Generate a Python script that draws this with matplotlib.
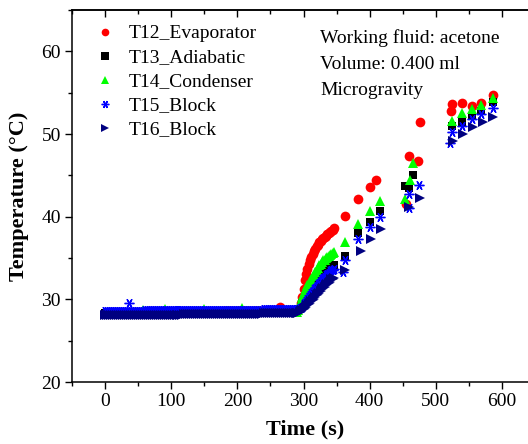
import matplotlib
matplotlib.use("Agg")
import matplotlib.pyplot as plt
from matplotlib.ticker import MultipleLocator

plt.rcParams['font.family'] = ['Liberation Serif', 'DejaVu Serif']

# ---------------- data ----------------
# flat period, sampled every 3 s (0 ... 288 s)
t_flat = [0, 3, 6, 9, 12, 15, 18, 21, 24, 27, 30, 33,
          36, 39, 42, 45, 48, 51, 54, 57, 60, 63, 66, 69,
          72, 75, 78, 81, 84, 87, 90, 93, 96, 99, 102, 105,
          108, 111, 114, 117, 120, 123, 126, 129, 132, 135, 138, 141,
          144, 147, 150, 153, 156, 159, 162, 165, 168, 171, 174, 177,
          180, 183, 186, 189, 192, 195, 198, 201, 204, 207, 210, 213,
          216, 219, 222, 225, 228, 231, 234, 237, 240, 243, 246, 249,
          252, 255, 258, 261, 264, 267, 270, 273, 276, 279, 282, 285,
          288]
# heating onset, sampled every 2 s (290 ... 346 s)
t_rise = [290, 292, 294, 296, 298, 300, 302, 304, 306, 308, 310, 312, 314, 316, 318,
          320, 322, 324, 326, 328, 330, 332, 334, 336, 338, 340, 342, 344, 346]

t12_flat = [28.40, 28.40, 28.35, 28.40, 28.40, 28.40, 28.35, 28.40, 28.40, 28.40,
            28.40, 28.35, 28.40, 28.40, 28.40, 28.40, 28.35, 28.40, 28.40, 28.40,
            28.45, 28.45, 28.45, 28.40, 28.45, 28.45, 28.45, 28.45, 28.45, 28.40,
            28.45, 28.45, 28.45, 28.45, 28.45, 28.45, 28.40, 28.45, 28.45, 28.45,
            28.50, 28.50, 28.50, 28.50, 28.45, 28.50, 28.50, 28.50, 28.50, 28.50,
            28.50, 28.50, 28.45, 28.50, 28.50, 28.50, 28.50, 28.50, 28.50, 28.50,
            28.55, 28.55, 28.55, 28.55, 28.55, 28.50, 28.55, 28.55, 28.55, 28.55,
            28.55, 28.55, 28.55, 28.55, 28.50, 28.55, 28.55, 28.55, 28.55, 28.55,
            28.60, 28.60, 28.60, 28.60, 28.60, 28.60, 28.60, 28.70, 29.10, 28.70,
            28.60, 28.60, 28.60, 28.60, 28.60, 28.60, 28.60]
t12_rise = [28.7, 28.8, 29.0, 29.5, 30.3, 31.3, 32.3, 33.1, 33.7, 34.3, 34.8, 35.1,
            35.5, 35.8, 36.1, 36.4, 36.6, 36.9, 37.1, 37.3, 37.4, 37.6, 37.7, 37.9,
            38.0, 38.2, 38.3, 38.4, 38.6]

t13_flat = [28.30, 28.30, 28.30, 28.30, 28.30, 28.30, 28.30, 28.30, 28.30, 28.30,
            28.30, 28.30, 28.30, 28.30, 28.30, 28.30, 28.30, 28.30, 28.30, 28.30,
            28.35, 28.35, 28.35, 28.35, 28.35, 28.35, 28.35, 28.35, 28.35, 28.35,
            28.35, 28.35, 28.35, 28.35, 28.35, 28.35, 28.35, 28.35, 28.35, 28.35,
            28.40, 28.40, 28.40, 28.40, 28.40, 28.40, 28.40, 28.40, 28.40, 28.40,
            28.40, 28.40, 28.40, 28.40, 28.40, 28.40, 28.40, 28.40, 28.40, 28.40,
            28.45, 28.45, 28.45, 28.45, 28.45, 28.45, 28.45, 28.45, 28.45, 28.45,
            28.45, 28.45, 28.45, 28.45, 28.45, 28.45, 28.45, 28.45, 28.45, 28.45,
            28.50, 28.50, 28.50, 28.50, 28.50, 28.50, 28.50, 28.50, 28.50, 28.50,
            28.50, 28.50, 28.50, 28.50, 28.50, 28.50, 28.50]
t13_rise = [28.5, 28.6, 28.8, 29.1, 29.5, 29.8, 30.1, 30.4, 30.7, 31.0, 31.2, 31.5,
            31.8, 32.0, 32.2, 32.4, 32.6, 32.8, 33.0, 33.2, 33.3, 33.4, 33.6, 33.7,
            33.8, 33.9, 34.0, 34.1, 34.2]

t14_flat = [28.25, 28.35, 28.35, 28.40, 28.35, 28.35, 28.35, 28.40, 28.35, 28.35,
            28.40, 28.35, 28.35, 28.40, 28.35, 28.35, 28.35, 28.40, 28.35, 28.75,
            28.40, 28.40, 28.40, 28.45, 28.40, 28.40, 28.40, 28.45, 28.40, 28.40,
            28.80, 28.40, 28.40, 28.40, 28.45, 28.40, 28.40, 28.45, 28.40, 28.40,
            28.45, 28.45, 28.50, 28.45, 28.45, 28.50, 28.45, 28.45, 28.50, 28.45,
            28.85, 28.45, 28.45, 28.50, 28.45, 28.45, 28.45, 28.50, 28.45, 28.45,
            28.50, 28.50, 28.55, 28.50, 28.50, 28.55, 28.50, 28.50, 28.55, 28.90,
            28.50, 28.50, 28.55, 28.50, 28.50, 28.55, 28.50, 28.50, 28.55, 28.50,
            28.55, 28.55, 28.60, 28.55, 28.55, 28.60, 28.55, 28.55, 28.60, 28.55,
            28.55, 28.55, 28.60, 28.55, 28.45, 28.45, 28.45]
t14_rise = [28.5, 28.7, 29.2, 29.8, 30.3, 30.7, 31.0, 31.4, 31.7, 32.0, 32.2, 32.5,
            32.8, 33.0, 33.3, 33.6, 33.8, 34.1, 34.3, 34.5, 34.7, 34.8, 35.0, 35.1,
            35.2, 35.4, 35.5, 35.6, 35.7]

t15_flat = [28.60, 28.60, 28.60, 28.60, 28.60, 28.60, 28.60, 28.60, 28.60, 28.60,
            28.60, 28.60, 29.50, 28.60, 28.60, 28.60, 28.60, 28.60, 28.60, 28.60,
            28.65, 28.65, 28.65, 28.65, 28.65, 28.65, 28.65, 28.65, 28.65, 28.65,
            28.65, 28.65, 28.65, 28.65, 28.65, 28.65, 28.65, 28.65, 28.65, 28.65,
            28.70, 28.70, 28.70, 28.70, 28.70, 28.70, 28.70, 28.70, 28.70, 28.70,
            28.70, 28.70, 28.70, 28.70, 28.70, 28.70, 28.70, 28.70, 28.70, 28.70,
            28.75, 28.75, 28.75, 28.75, 28.75, 28.75, 28.75, 28.75, 28.75, 28.75,
            28.75, 28.75, 28.75, 28.75, 28.75, 28.75, 28.75, 28.75, 28.75, 28.75,
            28.80, 28.80, 28.80, 28.80, 28.80, 28.80, 28.80, 28.80, 28.80, 28.80,
            28.80, 28.80, 28.80, 28.80, 28.80, 28.80, 28.80]
t15_rise = [28.8, 28.8, 28.9, 29.0, 29.1, 29.4, 29.6, 29.8, 30.1, 30.3, 30.5, 30.8,
            31.0, 31.2, 31.4, 31.6, 31.8, 32.0, 32.2, 32.4, 32.6, 32.7, 32.9, 33.1,
            33.2, 33.4, 33.5, 33.6, 33.7]

t16_flat = [28.10, 28.10, 28.10, 28.10, 28.10, 28.10, 28.10, 28.10, 28.10, 28.10,
            28.10, 28.10, 28.10, 28.10, 28.10, 28.10, 28.10, 28.10, 28.10, 28.10,
            28.15, 28.15, 28.15, 28.15, 28.15, 28.15, 28.15, 28.15, 28.15, 28.15,
            28.15, 28.15, 28.15, 28.15, 28.15, 28.15, 28.15, 28.15, 28.15, 28.15,
            28.20, 28.20, 28.20, 28.20, 28.20, 28.20, 28.20, 28.20, 28.20, 28.20,
            28.20, 28.20, 28.20, 28.20, 28.20, 28.20, 28.20, 28.20, 28.20, 28.20,
            28.25, 28.25, 28.25, 28.25, 28.25, 28.25, 28.25, 28.25, 28.25, 28.25,
            28.25, 28.25, 28.25, 28.25, 28.25, 28.25, 28.25, 28.25, 28.25, 28.25,
            28.30, 28.30, 28.30, 28.30, 28.30, 28.30, 28.30, 28.30, 28.30, 28.30,
            28.30, 28.30, 28.30, 28.30, 28.30, 28.30, 28.30]
t16_rise = [28.3, 28.4, 28.5, 28.6, 28.7, 28.8, 28.9, 29.1, 29.3, 29.4, 29.6, 29.8,
            29.9, 30.1, 30.3, 30.5, 30.6, 30.8, 31.0, 31.2, 31.4, 31.5, 31.7, 31.9,
            32.0, 32.1, 32.4, 32.5, 32.6]

# sparse sampling after ~346 s (separate acquisition windows)
t12_t = [362, 383, 400, 410, 455, 460, 473, 476, 523, 524, 539, 554, 569, 586]
t12_v = [40.1, 42.1, 43.6, 44.4, 41.5, 47.3, 46.7, 51.5, 52.8, 53.6, 53.8, 53.4, 53.8, 54.7]

t13_t = [362, 383, 400, 415, 453, 460, 466, 524, 539, 554, 569, 586]
t13_v = [35.3, 38.0, 39.4, 40.7, 43.7, 43.5, 45.1, 51.0, 51.4, 52.2, 52.8, 53.9]

t14_t = [362, 383, 400, 415, 453, 461, 466, 524, 539, 554, 569, 586]
t14_v = [36.9, 39.1, 40.7, 41.9, 42.1, 44.4, 46.5, 51.6, 52.6, 53.0, 53.5, 54.4]

t15_t = [360, 362, 383, 400, 415, 460, 460, 475, 521, 524, 539, 554, 569, 586]
t15_v = [33.3, 34.7, 37.3, 38.7, 40.0, 42.7, 41.1, 43.8, 48.9, 50.2, 51.0, 51.8, 52.4, 53.2]

t16_t = [363, 387, 402, 417, 460, 476, 526, 541, 556, 571, 587]
t16_v = [33.5, 35.8, 37.3, 38.5, 41.2, 42.3, 49.2, 50.0, 50.8, 51.4, 52.0]

labels = ["T12_Evaporator", "T13_Adiabatic", "T14_Condenser", "T15_Block", "T16_Block"]
colors = ["#FF0000", "#000000", "#00FF00", "#0000FF", "#000080"]
markers = ["o", "s", "^", (6, 2, 90), ">"]
msizes = [7.0, 6.0, 7.8, 7.0, 7.2]

series = [
    (t12_flat, t12_rise, t12_t, t12_v),
    (t13_flat, t13_rise, t13_t, t13_v),
    (t14_flat, t14_rise, t14_t, t14_v),
    (t15_flat, t15_rise, t15_t, t15_v),
    (t16_flat, t16_rise, t16_t, t16_v),
]

# ---------------- figure ----------------
fig = plt.figure(figsize=(5.28, 4.44), dpi=100)
ax = fig.add_axes([72 / 528, 1 - 382 / 444, 463 / 528, 372 / 444])

for (vf, vr, ts, vs), c, m, ms in zip(series, colors, markers, msizes):
    xs = t_flat + t_rise + ts
    ys = vf + vr + vs
    mew = 1.0 if isinstance(m, tuple) else 0.0
    ax.plot(xs, ys, linestyle="none", marker=m, color=c, markersize=ms,
            markeredgewidth=mew, markeredgecolor=c)

ax.set_xlim(-50, 650)
ax.set_ylim(20, 65)
ax.xaxis.set_major_locator(MultipleLocator(100))
ax.xaxis.set_minor_locator(MultipleLocator(50))
ax.yaxis.set_major_locator(MultipleLocator(10))
ax.yaxis.set_minor_locator(MultipleLocator(5))

ax.tick_params(which="both", direction="out", top=False, right=False,
               labelsize=14, width=1.0)
ax.tick_params(which="major", length=5, pad=3)
ax.tick_params(which="minor", length=3)
# inward ticks on top and right
axt = ax.secondary_xaxis("top")
axt.xaxis.set_major_locator(MultipleLocator(100))
axt.xaxis.set_minor_locator(MultipleLocator(50))
axt.tick_params(which="both", direction="in", labeltop=False, width=1.0)
axt.tick_params(which="major", length=5)
axt.tick_params(which="minor", length=3)
axr = ax.secondary_yaxis("right")
axr.yaxis.set_major_locator(MultipleLocator(10))
axr.yaxis.set_minor_locator(MultipleLocator(5))
axr.tick_params(which="both", direction="in", labelright=False, width=1.0)
axr.tick_params(which="major", length=5)
axr.tick_params(which="minor", length=3)
for a in (ax, axt, axr):
    for s in a.spines.values():
        s.set_linewidth(1.1)

ax.set_xlabel("Time (s)", fontsize=16, fontweight="bold")
ax.set_ylabel("Temperature (°C)", fontsize=16, fontweight="bold")
ax.xaxis.set_label_coords((305 - 72) / 463, -0.1)
ax.yaxis.set_label_coords(-0.093, 0.5)

# legend (manual placement to match the reference)
for i, (lab, c, m) in enumerate(zip(labels, colors, markers)):
    y = (382 - 32 - 24 * i) / 372
    mew = 1.0 if isinstance(m, tuple) else 0.0
    ax.plot([(105 - 72) / 463], [y], transform=ax.transAxes, linestyle="none",
            marker=m, color=c, markersize=5.5, markeredgewidth=mew,
            markeredgecolor=c, clip_on=False)
    ax.text((129 - 72) / 463, y, lab, transform=ax.transAxes, fontsize=14,
            va="center_baseline", ha="left")

for i, txt in enumerate(["Working fluid: acetone", "Volume: 0.400 ml", "Microgravity"]):
    ax.text((320 - 72) / 463, (382 - 43 - 26 * i) / 372, txt, transform=ax.transAxes,
            fontsize=14, va="baseline", ha="left")

fig.savefig("out.png", dpi=100)
